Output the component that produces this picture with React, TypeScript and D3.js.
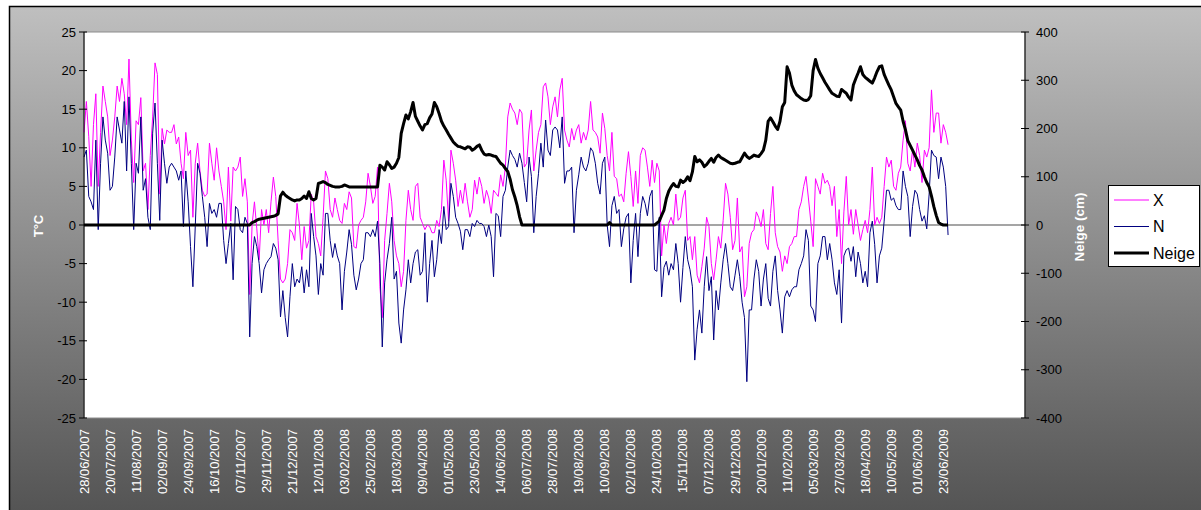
import React from 'react';
import * as d3 from 'd3';

// one sample every 2 days, starting 28/06/2007
const SAMPLE_STEP_DAYS = 2;
const LABEL_STEP_DAYS = 22;

const dateLabels = [
  '28/06/2007', '20/07/2007', '11/08/2007', '02/09/2007', '24/09/2007', '16/10/2007',
  '07/11/2007', '29/11/2007', '21/12/2007', '12/01/2008', '03/02/2008', '25/02/2008',
  '18/03/2008', '09/04/2008', '01/05/2008', '23/05/2008', '14/06/2008', '06/07/2008',
  '28/07/2008', '19/08/2008', '10/09/2008', '02/10/2008', '24/10/2008', '15/11/2008',
  '07/12/2008', '29/12/2008', '20/01/2009', '11/02/2009', '05/03/2009', '27/03/2009',
  '18/04/2009', '10/05/2009', '01/06/2009', '23/06/2009',
];

const tempTicks = [25, 20, 15, 10, 5, 0, -5, -10, -15, -20, -25];
const snowTicks = [400, 300, 200, 100, 0, -100, -200, -300, -400];

// X : daily max temperature (°C)
const xSeries = [
  12, 16, 11.5, 5, 13, 17, 5, 12, 18, 16,
  14, 9, 11, 14, 18, 16, 19, 17, 13, 21.5,
  11, 5.5, 13.5, 13, 16.5, 7, 8, 2, 9, 14,
  21, 19.5, 4, 12.5, 10.5, 12.3, 12, 12, 13, 10.5,
  11.4, 8, 6, 12, 9, 9.7, 1, 8, 10.6, 7,
  4.5, 3.7, 4, 10.6, 8, 5.8, 10, 7, 5, 3,
  -0.6, 7.5, 0.5, 7.5, 7, 7.5, 8.8, 3.7, 6, 3,
  -9, 0, 3, -0.5, -4.5, 2, 0, 2, -1, 3,
  6.2, 3.7, -2, -7, -7.5, -7, -5, -0.6, -1, -2,
  2.8, 0, -4.5, -0.2, -3, -2, 4, 3, -1.5, -2.4,
  -4, 1, 7, 6, 2, 1, 3.5, 2, 0.6, 0.2,
  2.8, 2, 4.3, 3.5, -2.8, -3, 0, 0.6, 1, 3,
  6.7, 5, 2.8, 3.7, 7.5, -8, -12, -2, 1.5, 5.4,
  3, -2, -4, -5, -8, -6, 0.6, 4.5, 2, 0.6,
  5, 5.4, 1, 0.2, -0.6, 0, -0.2, -1, -1, 0.6,
  -0.2, 2, 8.4, 5.8, 0.5, 9.7, 8, 5.8, 2.4, 4.5,
  2.8, 5.4, 3, 1, 2, 5.8, 4, 6.2, 5, 2.8,
  4.5, 3.5, 1.5, 4.5, 4.1, 3.7, 6.5, 5, 7.5, 14,
  15.8, 15, 14.5, 13, 15, 14.5, 7.5, 8, 12.3, 14.9,
  7, 9.7, 12, 13, 17.9, 18.4, 16.6, 13, 15.3, 16.6,
  14, 17.5, 19, 12.3, 11, 10.1, 12.5, 11, 12.3, 13,
  10.6, 12, 11, 12.3, 16, 12.3, 12, 11.4, 9.3, 14.5,
  12.5, 9, 7, 12, 6.3, 6, 3.7, 4, 3, 6.7,
  9.5, 6.3, 2.4, 7, 2.8, 9, 10, 9.7, 7.5, 5,
  8.4, 5.5, 8, 7, -4, 0, -2.4, 0.2, 1, 0,
  4, 0.6, 1, 3.5, 4.5, -2, -1.5, -4.5, -1.5, -6.5,
  -7.5, -5.4, -3, 1, -0.2, -5, -7.1, -4.5, -1.5, -3,
  0.6, 5.4, 4, 1, -3.2, -2, 3.5, -3.5, -2.8, -9.3,
  -8, -2.4, -1, -0.6, 1.7, 1, -0.2, 2, -2.4, -3.2,
  1.5, 5, -1, -2.8, -3.5, -6, -4, -5, -2.8, -2.4,
  -1.5, -1.5, 2, 3, 5, 6.3, 3.5, 0.5, -2.8, 6,
  5, 4, 6.7, 5.4, 5.8, 5, 2.5, 5, -1.5, 2,
  -5, 1.7, 6.3, 0, 2, -1.2, 2, 0, -2, -0.6,
  0.6, -1, 2, 7.5, 0, 1, 0.2, 1, 5, 8.8,
  7.5, 8.4, 5, 4.5, 6.7, 7.5, 11, 13.5, 8, 7,
  9.7, 7.5, 10.6, 9, 5.5, 9.7, 8.8, 10, 17.5, 12,
  14.5, 14.5, 10.6, 13, 12, 10.4,
];

// N : daily min temperature (°C)
const nSeries = [
  8.8, 9.7, 3.7, 3, 2, 11, -0.6, 8, 14, 11,
  9.3, 4.5, 5, 8.8, 14, 12.3, 10.6, 16, 7, 16.6,
  8, -0.6, 8, 6.7, 14, 4.5, 6, 1, -0.6, 11.9,
  15.8, 8, 0.6, 11, 8, 5.4, 7.5, 8, 7.5, 7,
  5.8, 7, -0.2, 7, 3, -2.8, -8, -0.2, 8, 6.7,
  3.7, 1, -2.8, 2.8, 1.5, 2, 1, 2.8, 2.8, -2,
  -5, -2.4, 0.2, -7.1, 2.4, 2, -0.6, -1, 1, 0.2,
  -14.5, -5, -1.5, -2.8, -5, -8.8, -5.8, -5, -4.5, -4.1,
  -2.4, -3, -4.5, -11.9, -8.5, -12, -14.5, -9.3, -5, -8,
  -7, -7.5, -5.4, -8.8, -5.8, -8, 1.5, -1.5, -4, -9,
  -5, -6.5, 1.5, 1.5, -2, -4.2, -2.4, -4, -5, -11,
  -6, -3.5, -0.6, -2.5, -6.5, -8.4, -7, -5, -4.5, -1,
  -1, -1.5, -0.6, -1.5, 0.5, -5, -15.8, -7.5, -4.5, -2.4,
  1, -7, -6, -12.7, -15.3, -11, -8.4, -4.5, -7.5, -5,
  -3.5, -3.2, -6.5, -6, -1, -10, -5, -2, -6.7, -4.5,
  -0.6, -2.4, 2.4, -0.6, -0.2, 5.4, 3.7, 1, 0.2, -0.8,
  -3.2, -0.6, -0.6, -1.5, 0.2, -0.2, 0.6, 0.2, 0.2, -0.2,
  -1.5, 0, -1.5, -6.7, 1.5, 1.2, -1.5, 3.7, 4.5, 7.5,
  9.7, 9, 8.5, 7.5, 9.3, 8, 5.5, 3, 8.8, 6.3,
  -1, 3.7, 6.7, 10.6, 7.5, 13.6, 9.7, 9, 12.3, 12.7,
  12.3, 10, 14, 5.4, 7, 7, 7.5, -1, 4.5, 6.5,
  8.8, 7.5, 7, 8, 10, 9.5, 8, 5.4, 4, 8,
  8.8, 0, -2.8, 2.5, 3.7, 1.5, 2, -2.8, -0.5, 1,
  1.5, -7.5, -2, 1.5, -4.1, 1.5, 3.7, 2.8, 1.2, 3.7,
  4.5, -5.8, -6, 1, -9.3, -5.5, -4.7, -6.5, -5, -5.8,
  -2.4, -5, -10, -5.5, -1.5, -4.5, -5.8, -8, -17.5, -13.5,
  -11, -14, -8, -4.1, -8.5, -6.7, -14.9, -8.5, -11, -7.5,
  -4.5, -2.4, -5, -8, -8.5, -6.5, -4.5, -6.7, -10, -12,
  -20.3, -11, -11, -7, -4.5, -6, -10.5, -7, -5, -9.5,
  -10.5, -6, -4, -8.5, -11, -14, -9.3, -8.5, -9.3, -8.4,
  -8, -8, -5.8, -5, -4, -0.6, -2, -10.5, -11, -12.5,
  -5, -4, -1.5, -1.5, -4.5, -2.4, -4.5, -7.5, -9, -5.8,
  -12.7, -4, -3.2, -3, -4.7, -2.8, -6.7, -3.5, -5, -7.5,
  -6, -8, -1, 0.5, -2.5, -7.5, -4, -3, 0.5, 4.5,
  4.5, 3.2, 3.5, 2.5, 2, 2, 7, 5, 3.7, -1.5,
  2.4, 4.5, 4, 2, 0.5, 1.2, -0.5, 4, 9.7, 9,
  8.8, 6, 8.8, 7.5, 5, -1.3,
];

// Neige : snow depth (cm)
const neigeSeries = [
  0, 0, 0, 0, 0, 0, 0, 0, 0, 0,
  0, 0, 0, 0, 0, 0, 0, 0, 0, 0,
  0, 0, 0, 0, 0, 0, 0, 0, 0, 0,
  0, 0, 0, 0, 0, 0, 0, 0, 0, 0,
  0, 0, 0, 0, 0, 0, 0, 0, 0, 0,
  0, 0, 0, 0, 0, 0, 0, 0, 0, 0,
  0, 0, 0, 0, 0, 0, 0, 0, 0, 0,
  0, 5, 7, 10, 12, 13, 14, 15, 16, 17,
  18, 20, 23, 60, 68, 62, 58, 55, 52, 50,
  52, 52, 55, 60, 55, 69, 55, 52, 55, 86,
  88, 90, 88, 84, 82, 80, 79, 79, 79, 80,
  83, 81, 79, 79, 79, 79, 79, 79, 79, 79,
  79, 79, 79, 79, 79, 124, 120, 114, 131, 125,
  117, 120, 128, 140, 190, 210, 228, 220, 235, 254,
  225, 215, 205, 197, 208, 210, 222, 230, 254, 245,
  231, 215, 205, 197, 188, 180, 172, 167, 163, 162,
  160, 158, 162, 161, 155, 158, 163, 166, 155, 147,
  145, 146, 145, 143, 142, 135, 128, 124, 117, 111,
  95, 73, 58, 40, 17, 0, 0, 0, 0, 0,
  0, 0, 0, 0, 0, 0, 0, 0, 0, 0,
  0, 0, 0, 0, 0, 0, 0, 0, 0, 0,
  0, 0, 0, 0, 0, 0, 0, 0, 0, 0,
  0, 0, 5, 0, 0, 0, 0, 0, 0, 0,
  0, 0, 0, 0, 0, 0, 0, 0, 0, 0,
  0, 0, 4, 8, 20, 31, 55, 70, 79, 86,
  80, 79, 93, 88, 92, 100, 92, 110, 142, 131,
  135, 130, 121, 125, 132, 138, 130, 140, 145, 140,
  137, 134, 131, 128, 127, 128, 130, 131, 140, 149,
  142, 138, 141, 145, 143, 142, 148, 155, 176, 215,
  222, 214, 205, 198, 215, 245, 254, 328, 315, 290,
  278, 270, 266, 262, 259, 258, 260, 268, 320, 343,
  325, 314, 305, 296, 288, 280, 273, 270, 267, 266,
  281, 277, 273, 265, 259, 290, 303, 315, 328, 312,
  306, 302, 298, 294, 305, 318, 328, 330, 312, 301,
  290, 280, 266, 252, 245, 238, 215, 197, 175, 165,
  155, 145, 135, 123, 114, 100, 88, 79, 60, 38,
  20, 5, 2, 0, 0, 0,
];

const FONT = '"Liberation Sans", Arial, Helvetica, sans-serif';

export default function App() {
  const W = 1201;
  const H = 510;
  const plot = { left: 84, right: 1025, top: 32, bottom: 418 };

  const x = d3.scaleLinear().domain([0, 795]).range([plot.left, plot.right]);
  const yT = d3.scaleLinear().domain([-25, 25]).range([plot.bottom, plot.top]);
  const yS = d3.scaleLinear().domain([-400, 400]).range([plot.bottom, plot.top]);

  const lineT = d3
    .line<number>()
    .x((_, i) => x(i * SAMPLE_STEP_DAYS))
    .y((d) => yT(d));
  const lineS = d3
    .line<number>()
    .x((_, i) => x(i * SAMPLE_STEP_DAYS))
    .y((d) => yS(d));

  const legend = { x: 1108, y: 185, w: 91, h: 81 };
  const legendItems = [
    { label: 'X', color: '#FF00FF', width: 1 },
    { label: 'N', color: '#000080', width: 1 },
    { label: 'Neige', color: '#000000', width: 3 },
  ];

  return (
    <div style={{ width: W, height: H }}>
      <style>{`body{margin:0;}`}</style>
      <svg width={W} height={H} style={{ display: 'block' }} fontFamily={FONT}>
        <defs>
          <linearGradient id="bg" x1="0" y1="0" x2="0" y2="1">
            <stop offset="0%" stopColor="#bfbfbf" />
            <stop offset="100%" stopColor="#535353" />
          </linearGradient>
        </defs>
        <rect x={9.5} y={6.5} width={W} height={H} fill="url(#bg)" stroke="#000" strokeWidth={1.5} />

        {/* plot area */}
        <rect
          x={plot.left}
          y={plot.top}
          width={plot.right - plot.left}
          height={plot.bottom - plot.top}
          fill="#fff"
          stroke="#8c8c8c"
          strokeWidth={1}
        />

        {/* zero (category) axis line */}
        <line x1={plot.left} x2={plot.right} y1={yT(0)} y2={yT(0)} stroke="#4d4d4d" strokeWidth={1.2} />

        {/* series */}
        <path d={lineT(xSeries) || ''} fill="none" stroke="#FF00FF" strokeWidth={1} strokeLinejoin="round" />
        <path d={lineT(nSeries) || ''} fill="none" stroke="#000080" strokeWidth={1} strokeLinejoin="round" />
        <path d={lineS(neigeSeries) || ''} fill="none" stroke="#000" strokeWidth={3} strokeLinejoin="round" />

        {/* left axis */}
        <line x1={plot.left} x2={plot.left} y1={plot.top} y2={plot.bottom} stroke="#000" strokeWidth={1} />
        {tempTicks.map((t) => (
          <g key={'t' + t}>
            <line x1={plot.left - 5} x2={plot.left + 3} y1={yT(t)} y2={yT(t)} stroke="#000" strokeWidth={1} />
            <text x={plot.left - 8} y={yT(t)} textAnchor="end" dominantBaseline="central" fontSize={13} fill="#000">
              {t}
            </text>
          </g>
        ))}

        {/* right axis */}
        <line x1={plot.right} x2={plot.right} y1={plot.top} y2={plot.bottom} stroke="#000" strokeWidth={1} />
        {snowTicks.map((t) => (
          <g key={'s' + t}>
            <line x1={plot.right - 4} x2={plot.right + 4} y1={yS(t)} y2={yS(t)} stroke="#000" strokeWidth={1} />
            <text x={plot.right + 11} y={yS(t)} textAnchor="start" dominantBaseline="central" fontSize={13} fill="#000">
              {t}
            </text>
          </g>
        ))}

        {/* date labels */}
        {dateLabels.map((lab, j) => {
          const px = x(j * LABEL_STEP_DAYS);
          const py = 429;
          return (
            <text
              key={lab}
              x={px}
              y={py}
              transform={`rotate(-90 ${px} ${py})`}
              textAnchor="end"
              dominantBaseline="central"
              fontSize={13}
              fill="#fff"
            >
              {lab}
            </text>
          );
        })}

        {/* axis titles */}
        <text
          x={38}
          y={226}
          transform="rotate(-90 38 226)"
          textAnchor="middle"
          dominantBaseline="central"
          fontSize={13}
          fontWeight="bold"
          fill="#fff"
        >
          T°C
        </text>
        <text
          x={1079}
          y={227}
          transform="rotate(-90 1079 227)"
          textAnchor="middle"
          dominantBaseline="central"
          fontSize={13.5}
          fontWeight="bold"
          fill="#fff"
        >
          Neige (cm)
        </text>

        {/* legend */}
        <rect x={legend.x + 0.5} y={legend.y + 0.5} width={legend.w} height={legend.h} fill="#fff" stroke="#000" strokeWidth={1} />
        {legendItems.map((it, i) => {
          const cy = legend.y + 15 + i * 26.5;
          return (
            <g key={it.label}>
              <line x1={legend.x + 6} x2={legend.x + 41} y1={cy} y2={cy} stroke={it.color} strokeWidth={it.width} />
              <text x={legend.x + 45} y={cy} dominantBaseline="central" fontSize={16} fill="#000">
                {it.label}
              </text>
            </g>
          );
        })}
      </svg>
    </div>
  );
}
